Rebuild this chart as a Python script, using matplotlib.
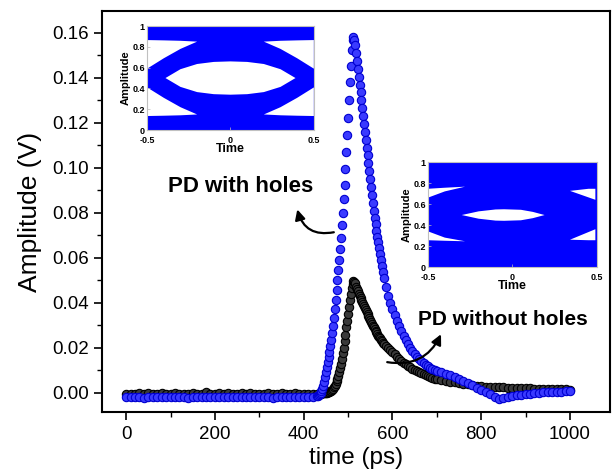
import matplotlib
matplotlib.use("Agg")
import matplotlib.pyplot as plt
from matplotlib.ticker import MultipleLocator

plt.rcParams['font.family'] = ['Liberation Sans', 'DejaVu Sans']

# ---- pulse data ----
# PD with holes (blue)
t_blue = (list(range(0, 421, 10)) + list(range(430, 581, 2))
          + list(range(585, 701, 5)) + list(range(710, 1001, 10)))
v_blue = [
    -0.0020, -0.0021, -0.0019, -0.0020, -0.0022, -0.0020, -0.0019, -0.0021, -0.0020, -0.0018,
    -0.0020, -0.0021, -0.0019, -0.0020, -0.0022, -0.0020, -0.0019, -0.0020, -0.0021, -0.0020,
    -0.0019, -0.0020, -0.0021, -0.0020, -0.0018, -0.0020, -0.0021, -0.0019, -0.0020, -0.0020,
    -0.0021, -0.0019, -0.0020, -0.0022, -0.0020, -0.0019, -0.0020, -0.0021, -0.0020, -0.0019,
    -0.0020, -0.0021, -0.0018,
    # rise / peak (2 ps)
    -0.0016, -0.0013, -0.0009, -0.0005, 0.0000, 0.0007, 0.0015, 0.0030, 0.0048, 0.0068,
    0.0090, 0.0112, 0.0135, 0.0158, 0.0182, 0.0208, 0.0236, 0.0266, 0.0298, 0.0334,
    0.0372, 0.0412, 0.0455, 0.0500, 0.0545, 0.0590, 0.0640, 0.0690, 0.0745, 0.0800,
    0.0860, 0.0925, 0.0995, 0.1070, 0.1145, 0.1220, 0.1300, 0.1380, 0.1455, 0.1525,
    0.1570, 0.1580, 0.1570, 0.1545, 0.1510, 0.1475, 0.1440, 0.1405, 0.1370, 0.1335,
    0.1300, 0.1265, 0.1230, 0.1195, 0.1160, 0.1125, 0.1090, 0.1055, 0.1020, 0.0985,
    0.0950, 0.0915, 0.0880, 0.0845, 0.0810, 0.0778, 0.0748, 0.0720, 0.0694, 0.0668,
    0.0642, 0.0615, 0.0588, 0.0562, 0.0536, 0.0512,
    # decay (5 ps)
    0.0470, 0.0432, 0.0400, 0.0372, 0.0345, 0.0320, 0.0296, 0.0274, 0.0253, 0.0234,
    0.0216, 0.0200, 0.0185, 0.0172, 0.0160, 0.0150, 0.0140, 0.0132, 0.0124, 0.0117,
    0.0111, 0.0105, 0.0100, 0.0096,
    # tail (10 ps)
    0.0090, 0.0085, 0.0080, 0.0071, 0.0062, 0.0052, 0.0042, 0.0032, 0.0022, 0.0012,
    0.0002, -0.0008, -0.0018, -0.0026, -0.0024, -0.0020, -0.0016, -0.0012, -0.0009, -0.0006,
    -0.0004, -0.0002, 0.0000, 0.0001, 0.0002, 0.0003, 0.0004, 0.0005, 0.0006, 0.0006,
]

# PD without holes (black)
t_black = (list(range(0, 431, 10)) + list(range(440, 581, 2))
           + list(range(585, 701, 5)) + list(range(710, 1001, 10)))
v_black = [
    -0.0006, -0.0004, -0.0007, -0.0003, -0.0005, 0.0000, -0.0006, -0.0004, -0.0002, -0.0006,
    -0.0005, -0.0001, -0.0006, -0.0004, -0.0007, -0.0002, -0.0005, -0.0004, 0.0001, -0.0006,
    -0.0005, -0.0003, -0.0006, -0.0002, -0.0005, -0.0007, -0.0003, -0.0004, 0.0000, -0.0006,
    -0.0004, -0.0005, -0.0002, -0.0006, -0.0004, -0.0003, -0.0006, -0.0005, -0.0002, -0.0004,
    -0.0006, -0.0005, -0.0004, -0.0005,
    # rise / peak (2 ps)
    -0.0004, -0.0003, -0.0003, -0.0002, -0.0002, -0.0001, 0.0000, 0.0001, 0.0002, 0.0004,
    0.0006, 0.0009, 0.0013, 0.0018, 0.0024, 0.0031, 0.0040, 0.0050, 0.0062, 0.0075,
    0.0090, 0.0108, 0.0128, 0.0150, 0.0175, 0.0200, 0.0228, 0.0258, 0.0290, 0.0320,
    0.0350, 0.0380, 0.0410, 0.0440, 0.0465, 0.0485, 0.0495, 0.0494, 0.0486, 0.0472,
    0.0460, 0.0450, 0.0440, 0.0430, 0.0421, 0.0412, 0.0403, 0.0394, 0.0385, 0.0376,
    0.0367, 0.0358, 0.0349, 0.0340, 0.0331, 0.0322, 0.0314, 0.0306, 0.0298, 0.0290,
    0.0282, 0.0275, 0.0268, 0.0261, 0.0254, 0.0247, 0.0241, 0.0235, 0.0229, 0.0223,
    0.0218,
    # decay (5 ps)
    0.0207, 0.0197, 0.0188, 0.0180, 0.0170, 0.0160, 0.0150, 0.0142, 0.0134, 0.0127,
    0.0120, 0.0113, 0.0107, 0.0101, 0.0096, 0.0091, 0.0086, 0.0082, 0.0078, 0.0074,
    0.0070, 0.0066, 0.0063, 0.0060,
    # tail (10 ps)
    0.0056, 0.0052, 0.0049, 0.0046, 0.0043, 0.0040, 0.0037, 0.0034, 0.0031, 0.0029,
    0.0027, 0.0026, 0.0025, 0.0024, 0.0023, 0.0022, 0.0022, 0.0021, 0.0020, 0.0020,
    0.0019, 0.0018, 0.0018, 0.0017, 0.0017, 0.0016, 0.0016, 0.0015, 0.0015, 0.0014,
]

# ---- eye diagram openings (white areas on blue) ----
# eye 1: PD with holes
eye1_t = [-0.39, -0.3, -0.2, -0.1, 0.0, 0.1, 0.2, 0.3, 0.39, 0.3, 0.2, 0.1, 0.0, -0.1, -0.2, -0.3]
eye1_y = [0.5, 0.585, 0.635, 0.655, 0.66, 0.655, 0.635, 0.585, 0.5, 0.415, 0.365, 0.345, 0.34, 0.345, 0.365, 0.415]
eye1_ul_t = [-0.5, -0.4, -0.3, -0.2, -0.3, -0.4, -0.5]
eye1_ul_y = [0.59, 0.69, 0.78, 0.85, 0.858, 0.862, 0.865]
eye1_ll_t = [-0.5, -0.4, -0.3, -0.2, -0.3, -0.4, -0.5]
eye1_ll_y = [0.41, 0.31, 0.22, 0.15, 0.142, 0.138, 0.135]
eye1_ur_t = [0.5, 0.4, 0.3, 0.2, 0.3, 0.4, 0.5]
eye1_lr_t = [0.5, 0.4, 0.3, 0.2, 0.3, 0.4, 0.5]

# eye 2: PD without holes
eye2_t = [-0.3, -0.2, -0.1, -0.05, 0.05, 0.12, 0.19, 0.12, 0.05, -0.05, -0.1, -0.2]
eye2_y = [0.495, 0.53, 0.548, 0.55, 0.545, 0.525, 0.495, 0.465, 0.445, 0.44, 0.442, 0.46]
eye2_ul_t = [-0.5, -0.4, -0.28, -0.4, -0.5]
eye2_ul_y = [0.66, 0.72, 0.765, 0.755, 0.745]
eye2_ll_t = [-0.5, -0.4, -0.28, -0.4, -0.5]
eye2_ll_y = [0.34, 0.28, 0.245, 0.25, 0.255]
eye2_ur_t = [0.34, 0.45, 0.49, 0.49]
eye2_ur_y = [0.725, 0.745, 0.745, 0.64]
eye2_lr_t = [0.34, 0.49, 0.49, 0.45]
eye2_lr_y = [0.26, 0.36, 0.255, 0.255]

fig = plt.figure(figsize=(6.13, 4.73), dpi=100)
ax = fig.add_axes([0.166, 0.128, 0.829, 0.849])

ax.plot(t_black, v_black, 'o', ms=6, mfc='#3a3a3a', mec='#000000', mew=0.8)
ax.plot(t_blue, v_blue, 'o', ms=6, mfc='#3a3aff', mec='#0000d0', mew=0.8)

ax.set_xlim(-55, 1090)
ax.set_ylim(-0.0088, 0.1698)
ax.xaxis.set_major_locator(MultipleLocator(200))
ax.xaxis.set_minor_locator(MultipleLocator(100))
ax.yaxis.set_major_locator(MultipleLocator(0.02))
ax.yaxis.set_minor_locator(MultipleLocator(0.01))
ax.yaxis.set_major_formatter(plt.FormatStrFormatter('%.2f'))
ax.tick_params(which='major', direction='out', length=6, width=1.2, labelsize=13.5)
ax.tick_params(which='minor', direction='out', length=3.5, width=1.0)
for s in ax.spines.values():
    s.set_linewidth(1.5)
ax.set_xlabel('time (ps)', fontsize=17.5, labelpad=3)
ax.set_ylabel('Amplitude (V)', fontsize=19, labelpad=7)

ax.text(258, 0.0916, 'PD with holes', fontsize=16, fontweight='bold', ha='center', va='center')
ax.annotate('', xy=(384, 0.0827), xytext=(474, 0.0716),
            arrowprops=dict(arrowstyle='-|>', color='black', lw=1.6,
                            mutation_scale=15, connectionstyle='arc3,rad=-0.5'))
ax.text(849, 0.0324, 'PD without holes', fontsize=15, fontweight='bold', ha='center', va='center')
ax.annotate('', xy=(712, 0.0271), xytext=(582, 0.0138),
            arrowprops=dict(arrowstyle='-|>', color='black', lw=1.6,
                            mutation_scale=15, connectionstyle='arc3,rad=0.4'))


def eye_inset(rect, shapes):
    ia = fig.add_axes(rect)
    ia.set_facecolor('#0000ff')
    for xs, ys in shapes:
        ia.fill(xs, ys, color='white', lw=0)
    ia.set_xlim(-0.5, 0.5)
    ia.set_ylim(0, 1)
    ia.set_xticks([-0.5, 0, 0.5])
    ia.set_xticklabels(['-0.5', '0', '0.5'])
    ia.set_yticks([0, 0.2, 0.4, 0.6, 0.8, 1])
    ia.set_yticklabels(['0', '0.2', '0.4', '0.6', '0.8', '1'])
    ia.tick_params(direction='in', length=2, width=0.5, color='#bbbbbb', labelsize=6.5, pad=1.5)
    ia.tick_params(axis='x', pad=4)
    for lab in ia.get_xticklabels() + ia.get_yticklabels():
        lab.set_fontweight('bold')
    for s in ia.spines.values():
        s.set_color('#c0c0c0')
        s.set_linewidth(0.8)
    ia.set_xlabel('Time', fontsize=9, fontweight='bold', labelpad=-1)
    ia.set_ylabel('Amplitude', fontsize=8, fontweight='bold', labelpad=1)
    return ia


eye_inset([0.240, 0.725, 0.272, 0.220],
          [(eye1_t, eye1_y), (eye1_ul_t, eye1_ul_y), (eye1_ll_t, eye1_ll_y),
           (eye1_ur_t, eye1_ul_y), (eye1_lr_t, eye1_ll_y)])
eye_inset([0.698, 0.4355, 0.276, 0.222],
          [(eye2_t, eye2_y), (eye2_ul_t, eye2_ul_y), (eye2_ll_t, eye2_ll_y),
           (eye2_ur_t, eye2_ur_y), (eye2_lr_t, eye2_lr_y)])

fig.savefig('out.png', dpi=100)
